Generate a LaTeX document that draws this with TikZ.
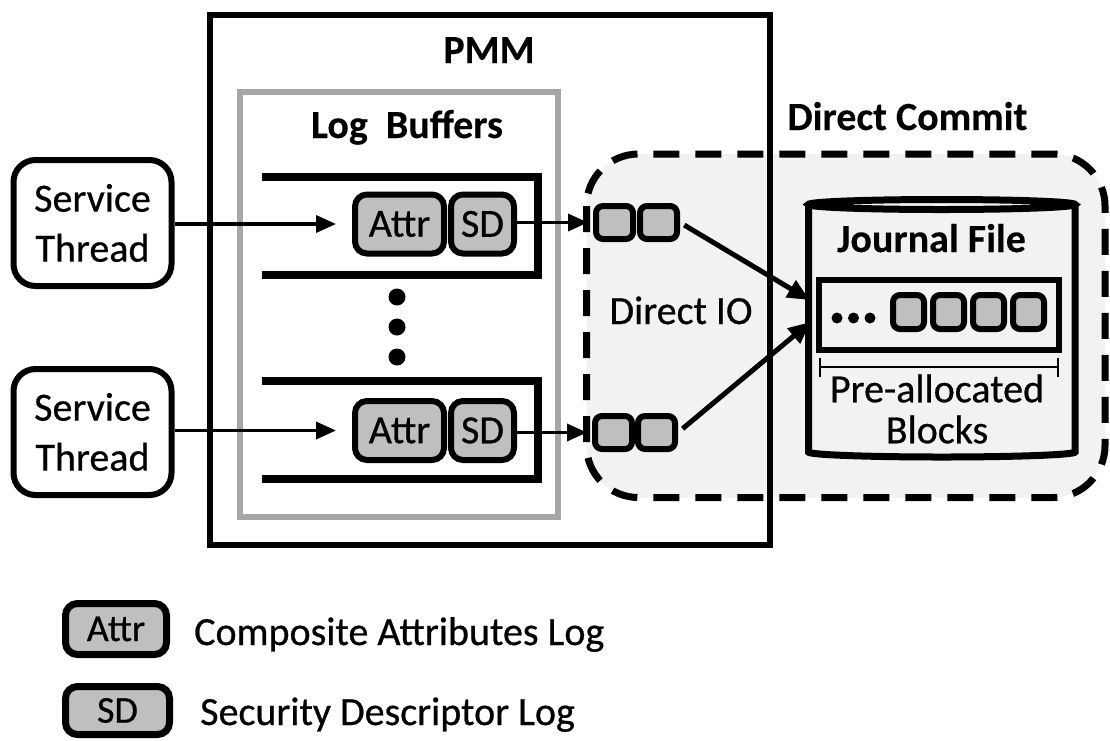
\documentclass[tikz,border=0pt]{standalone}
\usepackage{fontspec}
\setmainfont{Carlito}[FakeBold=0.6,BoldFeatures={FakeBold=0.2}]
\usetikzlibrary{arrows.meta}
\usetikzlibrary{positioning}
\definecolor{blkgray}{HTML}{BFBFBF}
\definecolor{regiongray}{HTML}{F2F2F2}
\definecolor{bufgray}{HTML}{A6A6A6}
\newcommand{\bigtext}{\fontsize{40}{50}\selectfont}
\newcommand{\logtext}{\fontsize{40}{46}\selectfont}

\begin{document}
\begin{tikzpicture}[x=1pt,y=-1pt,
        thread-node/.style={draw,line width=6pt,rounded corners=22pt,minimum width=158pt,minimum height=126pt,align=center,font=\bigtext,inner sep=0pt},
        log-node/.style={draw,line width=6pt,rounded corners=12pt,fill=blkgray,minimum height=59pt,inner sep=0pt,font=\logtext},
        blk-node/.style={draw,line width=6pt,rounded corners=7pt,fill=blkgray,minimum width=37pt,minimum height=33pt,inner sep=0pt},
        title-node/.style={font=\bigtext\bfseries,inner sep=0pt,anchor=base},
        plain-node/.style={font=\bigtext,inner sep=0pt},
        arr/.style={line width=3.5pt,-{Triangle[length=20pt,width=17pt]}},
        arr-big/.style={line width=5pt,-{Triangle[length=22pt,width=19pt]}}
    ]
        \useasboundingbox (0,0) rectangle (1110,740);

        % direct commit region
        \draw[line width=7pt,dash pattern=on 26pt off 16pt,fill=regiongray,rounded corners=52pt] (586.5,154) rectangle (1105,497.5);
        \node[title-node] (dc) at (907.5,130) {Direct Commit};
        \node[plain-node,anchor=base] (dio) at (681,324) {Direct IO};

        % PMM and log buffers
        \draw[line width=6pt] (210,15) rectangle (770,545);
        \draw[bufgray,line width=6pt] (240,92) rectangle (558,517);
        \node[title-node] (pmm) at (489,63) {PMM};
        \node[title-node] (lb) at (407,138) {Log\ \ Buffers};

        \foreach \y in {226,430}
            \draw[line width=8pt] (262,\y-49) -| (538,\y+49) -- (262,\y+49);
        \foreach \y in {297,327,357}
            \fill (397,\y) circle (8.5pt);

        \node[log-node,minimum width=89pt] (attr1) at (399.5,224) {Attr};
        \node[log-node,minimum width=63pt] (sd1)   at (482.5,224) {SD};
        \node[log-node,minimum width=89pt] (attr2) at (399.5,430.5) {Attr};
        \node[log-node,minimum width=63pt] (sd2)   at (482.5,430.5) {SD};

        % service threads
        \node[thread-node] (thr1) at (92.5,223) {Service\\Thread};
        \node[thread-node] (thr2) at (92.5,432) {Service\\Thread};

        % queued blocks
        \node[blk-node] (q11) at (614.5,222.5) {};
        \node[blk-node] (q12) at (658.5,222.5) {};
        \node[blk-node] (q21) at (613.5,432.5) {};
        \node[blk-node] (q22) at (656.5,432.5) {};

        % journal file
        \draw[line width=7pt] (808.5,204.5) -- (808.5,452) arc[start angle=180,end angle=360,x radius=133.25pt,y radius=5pt] -- (1075,204.5);
        \draw[line width=7pt] (941.75,204.5) ellipse [x radius=133.25pt,y radius=5pt];
        \node[title-node] (jf) at (931.5,252) {Journal File};
        \node[draw,line width=6pt,minimum width=240pt,minimum height=70pt,inner sep=0pt] (jrect) at (938.5,315) {};
        \foreach \x in {837,853.5,870}
            \fill (\x,318) circle (5.5pt);
        \foreach \i in {1,...,4}
            \node[blk-node,minimum width=31pt,minimum height=34pt] (jb\i) at (868.5+40*\i,312) {};
        \draw[line width=2.5pt] (820,358) -- (820,377) (820,367) -- (1058,367) (1058,358) -- (1058,377);
        \node[plain-node,align=center,font=\fontsize{40}{41}\selectfont] (pre) at (937,409) {Pre-allocated\\Blocks};

        % arrows
        \draw[arr,shorten >=16pt] (thr1.east |- attr1.west) -- (attr1.west);
        \draw[arr,shorten >=16pt] (thr2.east |- attr2.west) -- (attr2.west);
        \draw[arr,shorten >=5pt] (sd1.east |- q11.west) -- (q11.west);
        \draw[arr,shorten >=5pt] (sd2.east |- q21.west) -- (q21.west);
        \draw[arr-big,shorten <=5pt] (q12.east) -- ([xshift=-6pt,yshift=15pt]jrect.west);
        \draw[arr-big,shorten <=6pt] (q22.east) -- ([xshift=-5pt,yshift=-7pt]jrect.west);

        % legend
        \node[log-node,line width=7pt,minimum width=101pt,minimum height=51pt,font=\fontsize{38}{44}\selectfont] (lattr) at (116,629) {Attr};
        \node[log-node,line width=7pt,minimum width=104pt,minimum height=48pt,font=\fontsize{38}{44}\selectfont] (lsd) at (117.5,710.5) {SD};
        \node[plain-node,anchor=base west] (lattrtxt) at (194,645) {Composite Attributes Log};
        \node[plain-node,anchor=base west] (lsdtxt) at (200,725) {Security Descriptor Log};
    \end{tikzpicture}
\end{document}
